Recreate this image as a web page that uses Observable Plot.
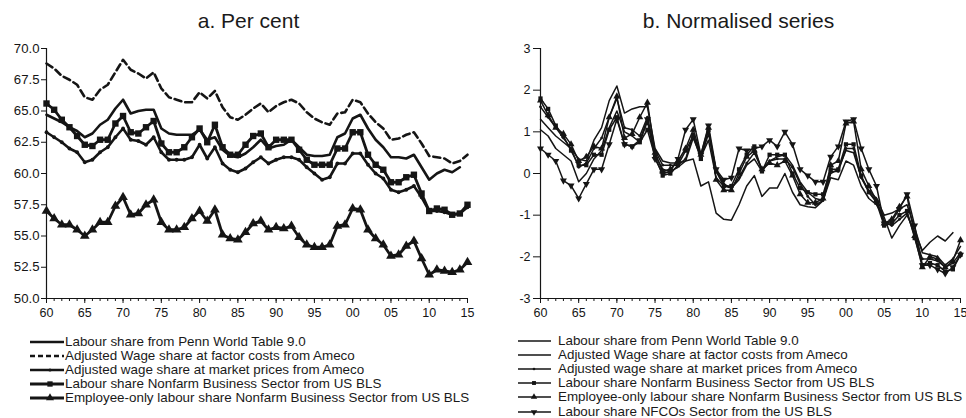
<!DOCTYPE html>
<html><head><meta charset="utf-8">
<script src="https://cdn.jsdelivr.net/npm/d3@7"></script>
<script src="https://cdn.jsdelivr.net/npm/@observablehq/plot@0.6"></script>
<style>
html,body{margin:0;padding:0;background:#fff;}
#root{position:relative;width:966px;height:418px;overflow:hidden;font-family:Arial,"Liberation Sans",Helvetica,sans-serif;color:#1a1a1a;}
.title{position:absolute;top:9px;width:240px;font-size:21px;line-height:24px;text-align:center;white-space:nowrap;}
.panel{position:absolute;top:35px;}
.legend{position:absolute;font-size:13.4px;}
.legend .row{display:flex;align-items:center;height:14.1px;white-space:nowrap;line-height:14px;}
.legend svg{flex:none;display:block;}
</style></head><body><div id="root"></div>
<script>
// ---------- data ----------
const years = d3.range(1960, 2016);
const xMajor = d3.range(1960, 2016, 5);
const yTicksA = [50, 52.5, 55, 57.5, 60, 62.5, 65, 67.5, 70];
const yTicksB = [-3, -2, -1, 0, 1, 2, 3];

const seriesNames = [
  "Labour share from Penn World Table 9.0",
  "Adjusted Wage share at factor costs from Ameco",
  "Adjusted wage share at market prices from Ameco",
  "Labour share Nonfarm Business Sector from US BLS",
  "Employee-only labour share Nonfarm Business Sector from US BLS",
  "Labour share NFCOs Sector from the US BLS"
];

// Panel a: per cent
const pwtA = [64.7,64.4,64.1,63.7,63.4,62.9,63.2,63.9,64.3,65.2,
  65.9,64.8,65.0,65.1,65.1,63.6,63.2,63.1,63.1,63.1,
  63.5,62.7,62.9,61.9,61.4,61.3,61.6,62.1,62.7,62.0,
  62.2,62.3,62.7,62.1,61.5,61.4,61.4,61.5,62.9,63.2,
  64.4,64.7,63.6,62.7,62.1,61.3,61.3,61.2,61.5,60.5,
  59.5,60.0,60.3,60.1,60.5,null];
const amecoFactorA = [68.8,68.4,67.8,67.5,67.1,66.1,65.9,66.7,67.1,68.1,
  69.1,68.3,68.0,67.6,68.1,66.8,66.1,65.9,65.7,65.7,
  66.5,66.0,66.6,65.3,64.5,64.3,64.7,65.2,65.6,64.9,
  65.4,65.7,65.9,65.6,64.9,64.4,64.1,63.9,64.8,64.9,
  65.9,65.7,64.8,64.1,63.6,62.7,62.8,63.1,63.3,62.4,
  61.4,61.3,61.2,60.8,61.0,61.5];
const amecoMarketA = [63.3,62.9,62.5,62.0,61.7,60.9,61.1,61.7,62.1,62.9,
  63.6,62.7,62.6,62.3,62.9,61.7,61.1,61.1,61.1,61.3,
  62.3,61.2,62.1,60.8,60.3,60.1,60.4,60.9,61.3,60.8,
  61.1,61.3,61.3,61.1,60.5,60.0,59.5,59.7,60.8,60.8,
  61.6,61.6,60.7,60.0,59.6,58.7,58.5,58.7,59.0,58.1,
  57.0,57.0,56.9,56.7,56.8,57.3];
const blsA = [65.6,65.1,64.3,63.7,63.0,62.3,62.2,62.7,62.7,64.0,
  64.6,63.3,63.2,63.7,64.2,62.4,61.7,61.7,62.1,62.9,
  63.6,62.5,63.9,62.1,61.5,61.5,62.3,63.0,63.2,62.1,
  62.7,62.7,62.7,61.9,61.1,60.7,60.7,60.7,62.0,62.0,
  63.3,63.3,61.5,60.7,60.3,59.3,59.3,59.7,59.9,58.4,
  57.0,57.2,57.1,56.7,56.8,57.5];
const employeeA = [57.0,56.4,55.9,55.9,55.5,55.0,55.5,56.1,56.1,57.4,
  58.1,56.7,56.8,57.5,57.9,56.1,55.5,55.5,55.7,56.4,
  57.0,56.2,57.1,55.1,54.8,54.7,55.3,56.0,56.2,55.5,
  55.7,55.6,55.8,54.9,54.3,54.1,54.1,54.3,55.8,55.9,
  57.2,57.1,55.5,54.8,54.3,53.4,53.5,54.2,54.6,53.2,
  51.9,52.3,52.2,52.1,52.3,52.9];

// Panel b: normalised series
const pwtB = [1.3,1.1,0.9,0.75,0.6,0.35,0.3,0.8,1.1,1.75,
  2.1,1.45,1.55,1.6,1.6,0.6,0.3,0.25,0.25,0.3,
  0.35,-0.3,-0.2,-0.95,-1.1,-1.12,-0.75,-0.3,-0.05,-0.55,
  -0.35,-0.35,0.0,-0.45,-0.75,-0.8,-0.82,-0.65,-0.1,-0.15,
  0.3,0.2,-0.3,-0.6,-0.75,-1.05,-1.55,-1.25,-1.0,-1.4,
  -1.85,-1.65,-1.5,-1.62,-1.42,null];
const amecoFactorB = [1.05,0.9,0.6,0.45,0.3,-0.2,0.0,0.35,0.55,1.1,
  1.5,1.0,0.9,0.75,1.25,0.45,0.1,0.05,0.15,0.3,
  0.85,0.4,0.8,-0.1,-0.3,-0.35,-0.15,0.2,0.35,0.05,
  0.3,0.4,0.45,0.2,-0.2,-0.45,-0.6,-0.65,0.0,0.1,
  0.55,0.5,-0.1,-0.4,-0.6,-1.0,-0.95,-0.85,-0.75,-1.3,
  -1.9,-1.95,-2.0,-2.2,-2.05,-1.75];
const amecoMarketB = [1.6,1.35,1.1,0.85,0.6,0.15,0.25,0.6,0.85,1.35,
  1.8,1.1,1.05,0.9,1.35,0.55,0.2,0.2,0.2,0.35,
  0.95,0.4,0.95,0.1,-0.25,-0.35,-0.1,0.25,0.5,0.1,
  0.3,0.35,0.35,0.15,-0.25,-0.55,-0.75,-0.65,0.05,0.05,
  0.6,0.6,-0.1,-0.45,-0.65,-1.15,-1.25,-1.1,-0.95,-1.5,
  -2.05,-2.05,-2.1,-2.25,-2.15,-1.9];
const blsB = [1.8,1.55,1.15,0.9,0.55,0.2,0.2,0.45,0.45,1.05,
  1.35,0.7,0.65,0.75,1.05,0.4,-0.05,0.0,0.2,0.55,
  0.9,0.35,1.05,0.05,-0.3,-0.3,0.1,0.45,0.65,0.05,
  0.45,0.45,0.45,0.0,-0.35,-0.45,-0.5,-0.5,0.1,0.1,
  0.7,0.7,-0.05,-0.45,-0.7,-1.25,-1.2,-1.0,-0.9,-1.55,
  -2.2,-2.15,-2.2,-2.35,-2.3,-1.95];
const employeeB = [1.75,1.4,1.1,0.95,0.7,0.3,0.4,0.65,0.6,1.35,
  1.85,0.85,0.95,1.35,1.7,0.5,0.05,0.1,0.3,0.6,
  1.05,0.45,1.1,-0.15,-0.4,-0.4,0.0,0.4,0.55,0.1,
  0.25,0.2,0.3,-0.05,-0.5,-0.7,-0.7,-0.6,0.2,0.3,
  1.2,1.25,0.1,-0.3,-0.65,-1.2,-1.1,-0.8,-0.55,-1.5,
  -2.25,-2.0,-2.05,-2.25,-2.1,-1.6];
const nfcoB = [0.6,0.45,0.3,-0.17,-0.29,-0.6,-0.25,0.1,0.1,0.7,
  1.3,0.7,0.65,0.8,1.3,0.35,0.0,0.05,0.35,1.05,
  1.3,0.45,1.15,0.1,-0.15,-0.1,0.6,0.55,0.6,0.65,
  0.8,0.65,1.0,0.7,0.1,-0.05,-0.2,-0.2,0.4,0.65,
  1.25,1.3,0.6,0.1,-0.3,-1.2,-1.15,-0.85,-0.5,-1.25,
  -2.2,-2.2,-2.3,-2.4,-2.25,-1.95];

// ---------- helpers ----------
const INK = "#151515";
const toRows = vals => years.map((year, i) => ({year, v: vals[i]})).filter(d => d.v != null);
const fmtYear = d => String(d % 100).padStart(2, "0");

function lineMarks(vals, o) {
  const rows = toRows(vals);
  const m = [Plot.line(rows, {x: "year", y: "v", stroke: INK, strokeWidth: o.sw, strokeDasharray: o.dash, strokeLinejoin: "round"})];
  if (o.symbol) m.push(Plot.dot(rows, {x: "year", y: "v", symbol: o.symbol, r: o.r, fill: INK, stroke: "none", rotate: o.rotate || 0}));
  return m;
}

function axes(yTicks, yFmt, ySize, yPad, y0, yFont) {
  return [
    Plot.axisX({ticks: years, tickSize: 3, tickFormat: () => "", stroke: INK, label: null}),
    Plot.axisX({ticks: xMajor, tickSize: 5, tickPadding: 5, tickFormat: fmtYear, stroke: INK, label: null}),
    Plot.axisY({ticks: yTicks, tickSize: ySize, tickPadding: yPad, tickFormat: yFmt, stroke: INK, label: null, fontSize: yFont}),
    Plot.ruleX([1960], {stroke: INK, strokeWidth: 1.2}),
    Plot.ruleY([y0], {stroke: INK, strokeWidth: 1.2})
  ];
}

const root = document.getElementById("root");
function place(node, left, top) {
  node.classList.add("panel");
  node.style.left = left + "px"; node.style.top = top + "px";
  root.appendChild(node);
}
function title(text, centerX) {
  const d = document.createElement("div");
  d.className = "title"; d.textContent = text;
  d.style.left = (centerX - 120) + "px";
  root.appendChild(d);
}

// ---------- panel a ----------
title("a. Per cent", 248.5);
const plotA = Plot.plot({
  width: 483, height: 290,
  marginLeft: 46, marginRight: 16, marginTop: 13, marginBottom: 27,
  x: {domain: [1960, 2015], label: null},
  y: {domain: [50, 70], label: null},
  style: {fontFamily: "Arial, 'Liberation Sans', Helvetica, sans-serif", fontSize: "12.5px", color: INK, background: "transparent", overflow: "visible"},
  marks: [
    ...axes(yTicksA, d3.format(".1f"), 5, 2, 50, 13.2),
    ...lineMarks(amecoFactorA, {sw: 2.6, dash: "7,4"}),
    ...lineMarks(pwtA, {sw: 2.6}),
    ...lineMarks(amecoMarketA, {sw: 2.6, symbol: "circle", r: 1.9}),
    ...lineMarks(blsA, {sw: 2.8, symbol: "square", r: 3.6}),
    ...lineMarks(employeeA, {sw: 2.8, symbol: "triangle", r: 3.6})
  ]
});
place(plotA, 0, 35);

// ---------- panel b ----------
title("b. Normalised series", 738.5);
const plotB = Plot.plot({
  width: 483, height: 290,
  marginLeft: 57, marginRight: 6, marginTop: 13, marginBottom: 27,
  x: {domain: [1960, 2015], label: null},
  y: {domain: [-3, 3], label: null},
  style: {fontFamily: "Arial, 'Liberation Sans', Helvetica, sans-serif", fontSize: "12.5px", color: INK, background: "transparent", overflow: "visible"},
  marks: [
    ...axes(yTicksB, d => String(d), 7, 3, -3, 12.5),
    ...lineMarks(pwtB, {sw: 1.5}),
    ...lineMarks(amecoFactorB, {sw: 1.5}),
    ...lineMarks(amecoMarketB, {sw: 1.5, symbol: "circle", r: 1.4}),
    ...lineMarks(blsB, {sw: 1.5, symbol: "square", r: 2.4}),
    ...lineMarks(employeeB, {sw: 1.5, symbol: "triangle", r: 2.6}),
    ...lineMarks(nfcoB, {sw: 1.5, symbol: "triangle", r: 2.6, rotate: 180})
  ]
});
place(plotB, 483, 35);

// ---------- legends ----------
const symMap = {circle: d3.symbolCircle, square: d3.symbolSquare, triangle: d3.symbolTriangle};
function legend(items, left, top, w, mx, textGap) {
  const div = document.createElement("div");
  div.className = "legend";
  div.style.left = left + "px"; div.style.top = top + "px";
  for (const it of items) {
    const row = document.createElement("div"); row.className = "row";
    const svg = d3.create("svg").attr("width", w).attr("height", 14);
    svg.append("line").attr("x1", 0).attr("x2", w).attr("y1", 7).attr("y2", 7)
      .attr("stroke", INK).attr("stroke-width", it.sw).attr("stroke-dasharray", it.dash || null);
    if (it.symbol) svg.append("path")
      .attr("transform", `translate(${mx},7) rotate(${it.rotate || 0})`)
      .attr("d", d3.symbol(symMap[it.symbol], Math.PI * it.r * it.r)())
      .attr("fill", INK);
    row.appendChild(svg.node());
    const t = document.createElement("span"); t.textContent = it.name; t.style.marginLeft = textGap + "px";
    row.appendChild(t);
    div.appendChild(row);
  }
  root.appendChild(div);
}
legend([
  {name: seriesNames[0], sw: 2.6},
  {name: seriesNames[1], sw: 2.6, dash: "5,3"},
  {name: seriesNames[2], sw: 2.6, symbol: "circle", r: 1.6},
  {name: seriesNames[3], sw: 2.8, symbol: "square", r: 3},
  {name: seriesNames[4], sw: 2.8, symbol: "triangle", r: 3}
], 30, 335, 34, 20, 1);
legend([
  {name: seriesNames[0], sw: 1.5},
  {name: seriesNames[1], sw: 1.5},
  {name: seriesNames[2], sw: 1.5, symbol: "circle", r: 1.3},
  {name: seriesNames[3], sw: 1.5, symbol: "square", r: 2.2},
  {name: seriesNames[4], sw: 1.5, symbol: "triangle", r: 2.4},
  {name: seriesNames[5], sw: 1.5, symbol: "triangle", r: 2.4, rotate: 180}
], 518, 334, 33, 16, 7);
</script></body></html>
